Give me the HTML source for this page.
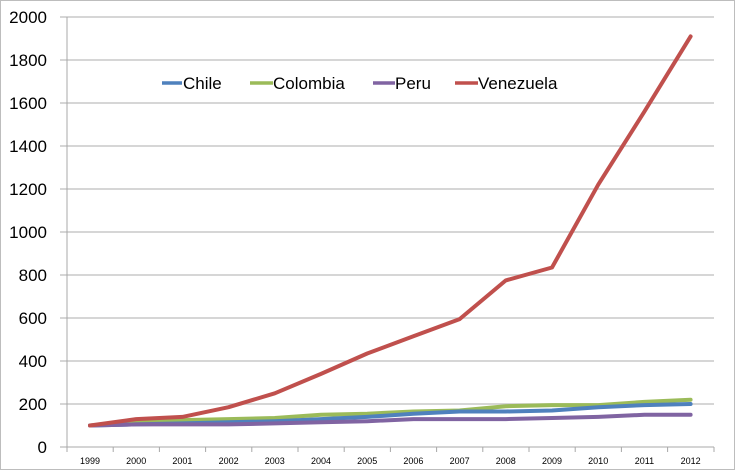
<!DOCTYPE html>
<html><head><meta charset="utf-8"><style>
html,body{margin:0;padding:0;background:#fff;}
svg{display:block;font-family:"Liberation Sans",sans-serif;}
</style></head><body>
<svg width="735" height="470" viewBox="0 0 735 470" xmlns="http://www.w3.org/2000/svg">
<rect x="0.5" y="0.5" width="734" height="469" fill="#fff" stroke="#bdbdbd"/>
<g stroke="#c8c8c8" stroke-width="1.5">
<line x1="60" x2="714" y1="17" y2="17"/>
<line x1="60" x2="714" y1="60" y2="60"/>
<line x1="60" x2="714" y1="103" y2="103"/>
<line x1="60" x2="714" y1="146" y2="146"/>
<line x1="60" x2="714" y1="189" y2="189"/>
<line x1="60" x2="714" y1="232" y2="232"/>
<line x1="60" x2="714" y1="275" y2="275"/>
<line x1="60" x2="714" y1="318" y2="318"/>
<line x1="60" x2="714" y1="361" y2="361"/>
<line x1="60" x2="714" y1="404" y2="404"/>
</g>
<g stroke="#a8a8a8" stroke-width="1">
<line x1="67" x2="67" y1="17" y2="447"/>
<line x1="60" x2="714" y1="447" y2="447"/>
<line x1="67" x2="67" y1="447" y2="452"/><line x1="113.2" x2="113.2" y1="447" y2="452"/><line x1="159.4" x2="159.4" y1="447" y2="452"/><line x1="205.6" x2="205.6" y1="447" y2="452"/><line x1="251.8" x2="251.8" y1="447" y2="452"/><line x1="298" x2="298" y1="447" y2="452"/><line x1="344.2" x2="344.2" y1="447" y2="452"/><line x1="390.4" x2="390.4" y1="447" y2="452"/><line x1="436.6" x2="436.6" y1="447" y2="452"/><line x1="482.8" x2="482.8" y1="447" y2="452"/><line x1="529" x2="529" y1="447" y2="452"/><line x1="575.2" x2="575.2" y1="447" y2="452"/><line x1="621.4" x2="621.4" y1="447" y2="452"/><line x1="667.6" x2="667.6" y1="447" y2="452"/><line x1="714" x2="714" y1="447" y2="452"/>
</g>
<g font-size="17" fill="#000" text-anchor="end">
<text x="47" y="23">2000</text><text x="47" y="66">1800</text><text x="47" y="109">1600</text><text x="47" y="152">1400</text><text x="47" y="195">1200</text><text x="47" y="238">1000</text><text x="47" y="281">800</text><text x="47" y="324">600</text><text x="47" y="367">400</text><text x="47" y="410">200</text><text x="47" y="453">0</text>
</g>
<g font-size="9" fill="#000" text-anchor="middle">
<text x="90" y="464">1999</text><text x="136.2" y="464">2000</text><text x="182.4" y="464">2001</text><text x="228.6" y="464">2002</text><text x="274.8" y="464">2003</text><text x="321" y="464">2004</text><text x="367.2" y="464">2005</text><text x="413.4" y="464">2006</text><text x="459.6" y="464">2007</text><text x="505.8" y="464">2008</text><text x="552" y="464">2009</text><text x="598.2" y="464">2010</text><text x="644.4" y="464">2011</text><text x="690.6" y="464">2012</text>
</g>
<g fill="none" stroke-width="4" stroke-linejoin="round" stroke-linecap="round">
<polyline stroke="#9bbb59" points="90,425.5 136.2,422.3 182.4,420.1 228.6,419.1 274.8,418 321,414.8 367.2,413.7 413.4,411.5 459.6,410.5 505.8,406.2 552,405.1 598.2,405.1 644.4,401.9 690.6,399.7"/>
<polyline stroke="#4f81bd" points="90,425.5 136.2,424.4 182.4,423.4 228.6,422.3 274.8,421.2 321,419.1 367.2,416.9 413.4,413.7 459.6,411.5 505.8,411.5 552,410.5 598.2,407.2 644.4,405.1 690.6,404"/>
<polyline stroke="#8064a2" points="90,425.5 136.2,424.4 182.4,424.4 228.6,424.4 274.8,423.4 321,422.3 367.2,421.2 413.4,419.1 459.6,419.1 505.8,419.1 552,418 598.2,416.9 644.4,414.8 690.6,414.8"/>
<polyline stroke="#c0504d" points="90,425.5 136.2,419.1 182.4,416.9 228.6,407.2 274.8,393.3 321,373.9 367.2,353.5 413.4,336.3 459.6,319.1 505.8,280.4 552,267.5 598.2,184.7 644.4,111.6 690.6,36.4"/>
</g>
<g stroke-width="3.5">
<line x1="162" x2="182" y1="83" y2="83" stroke="#4f81bd"/>
<line x1="250" x2="273" y1="83" y2="83" stroke="#9bbb59"/>
<line x1="373" x2="395" y1="83" y2="83" stroke="#8064a2"/>
<line x1="455" x2="478" y1="83" y2="83" stroke="#c0504d"/>
</g>
<g font-size="17" fill="#000">
<text x="183" y="89">Chile</text><text x="273" y="89">Colombia</text><text x="395" y="89">Peru</text><text x="478" y="89">Venezuela</text>
</g>
</svg>
</body></html>
